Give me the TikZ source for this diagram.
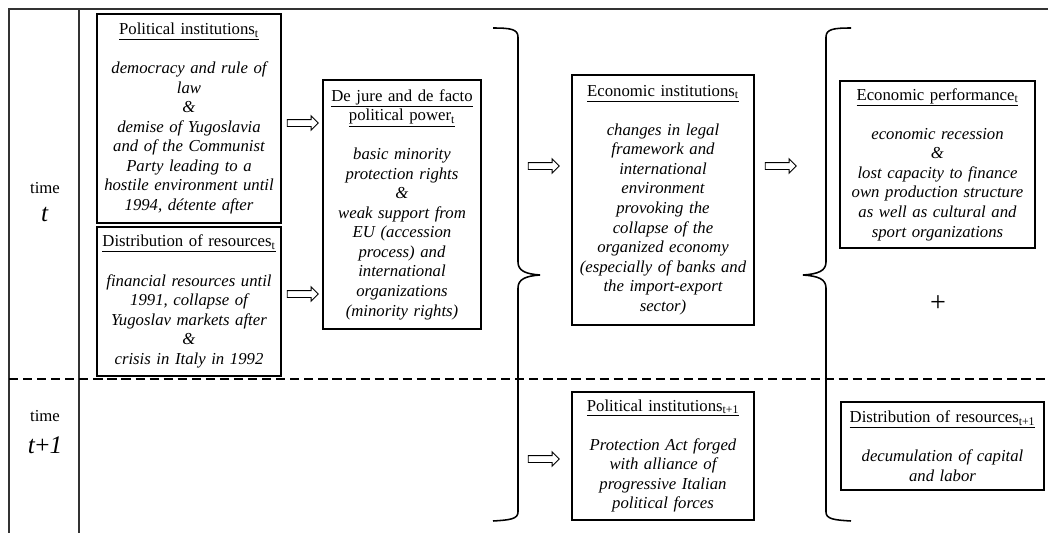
\documentclass[tikz,border=0pt]{standalone}
\usepackage{fontspec}
\setmainfont{Liberation Serif}
\usetikzlibrary{shapes.arrows}

\newcommand{\boxtitle}[1]{\underline{#1}\\[\baselineskip]}

\begin{document}
\begin{tikzpicture}[x=0.025cm, y=-0.025cm]
        % Define block styles
        \tikzstyle{frameline} = [line width=1.4pt, black!80]
        \tikzstyle{timeline} = [line width=1.1pt, dash pattern=on 6.5pt off 3.5pt]
        \tikzstyle{factor} = [rectangle, draw, line width=1pt, fill=white, align=center, inner xsep=0pt, inner ysep=2pt, font=\fontsize{11.9}{13.9}\selectfont]
        \tikzstyle{implies} = [single arrow, draw, line width=0.7pt, fill=white, minimum height=0.775cm, inner xsep=0pt, inner ysep=0.075cm, single arrow head extend=0.09cm]
        \tikzstyle{brace} = [line width=1.1pt]
        \tikzstyle{period} = [font=\fontsize{11.9}{13.9}\selectfont]
        \tikzstyle{tlabel} = [font=\fontsize{18}{20}\selectfont]

        \useasboundingbox (0,0) rectangle (1048,533);

        % Frame
        \draw[frameline] (9,533) -- (9,9) -- (1048,9);
        \draw[frameline] (79,9) -- (79,533);
        \draw[timeline] (9,379) -- (1048,379);

        % Time labels
        \node[period] (timet) at (45,188) {time};
        \node[tlabel] (tnow) at (45,214) {\textit{t}};
        \node[period] (timenext) at (45,416) {time};
        \node[tlabel] (tnext) at (45,445) {\textit{t}+\textit{1}};

        % Nodes at time t
        \node[factor, text width=4.6cm, minimum height=5.225cm] (polt) at (189,118.5)
            {\boxtitle{Political institutions\textsubscript{t}}\itshape democracy and rule of\\law\\\&\\demise of Yugoslavia\\and of the Communist\\Party leading to a\\hostile environment until\\1994, détente after};
        \node[factor, text width=4.6cm, minimum height=3.725cm] (rest) at (189,301.5)
            {\boxtitle{Distribution of resources\textsubscript{t}}\itshape financial resources until\\1991, collapse of\\Yugoslav markets after\\\&\\crisis in Italy in 1992};
        \node[factor, text width=3.95cm, minimum height=6.225cm] (powt) at (402,204.5)
            {\underline{De jure and de facto}\\\boxtitle{political power\textsubscript{t}}\itshape basic minority\\protection rights\\\&\\weak support from\\EU (accession\\process) and\\international\\organizations\\(minority rights)};
        \node[factor, text width=4.55cm, minimum height=6.25cm] (ecot) at (663,200)
            {\boxtitle{Economic institutions\textsubscript{t}}\itshape changes in legal\\framework and\\international\\environment\\provoking the\\collapse of the\\organized economy\\(especially of banks and\\the import-export\\sector)};
        \node[factor, text width=4.875cm, minimum height=4.175cm] (perft) at (937.5,164.5)
            {\boxtitle{Economic performance\textsubscript{t}}\itshape economic recession\\\&\\lost capacity to finance\\own production structure\\as well as cultural and\\sport organizations};
        \node[font=\fontsize{20}{24}\selectfont] (plus) at (938,304) {+};

        % Nodes at time t+1
        \node[factor, text width=4.55cm, minimum height=3.2cm] (polnext) at (663,456)
            {\boxtitle{Political institutions\textsubscript{t+1}}\itshape Protection Act forged\\with alliance of\\progressive Italian\\political forces};
        \node[factor, text width=5.075cm, minimum height=2.2cm] (resnext) at (942.5,446)
            {\boxtitle{Distribution of resources\textsubscript{t+1}}\itshape decumulation of capital\\and labor};

        % Arrows
        \node[implies] (arrpol) at (301,123) {};
        \node[implies] (arrres) at (301,294) {};
        \node[implies] (arrpow) at (542,166) {};
        \node[implies] (arreco) at (779,166) {};
        \node[implies] (arrnext) at (542,459) {};

        % Braces
        \draw[brace] (493,28) .. controls (510,28) and (518,29) .. (518,37) -- (518,262)
            .. controls (518,271) and (526,274) .. (540,275)
            .. controls (526,276) and (518,279) .. (518,288) -- (518,512)
            .. controls (518,519) and (510,520) .. (493,521);
        \draw[brace] (851,28) .. controls (834,28) and (826,29) .. (826,37) -- (826,262)
            .. controls (826,271) and (818,274) .. (803,275)
            .. controls (818,276) and (826,279) .. (826,288) -- (826,512)
            .. controls (826,519) and (834,520) .. (851,521);

    \end{tikzpicture}
\end{document}
